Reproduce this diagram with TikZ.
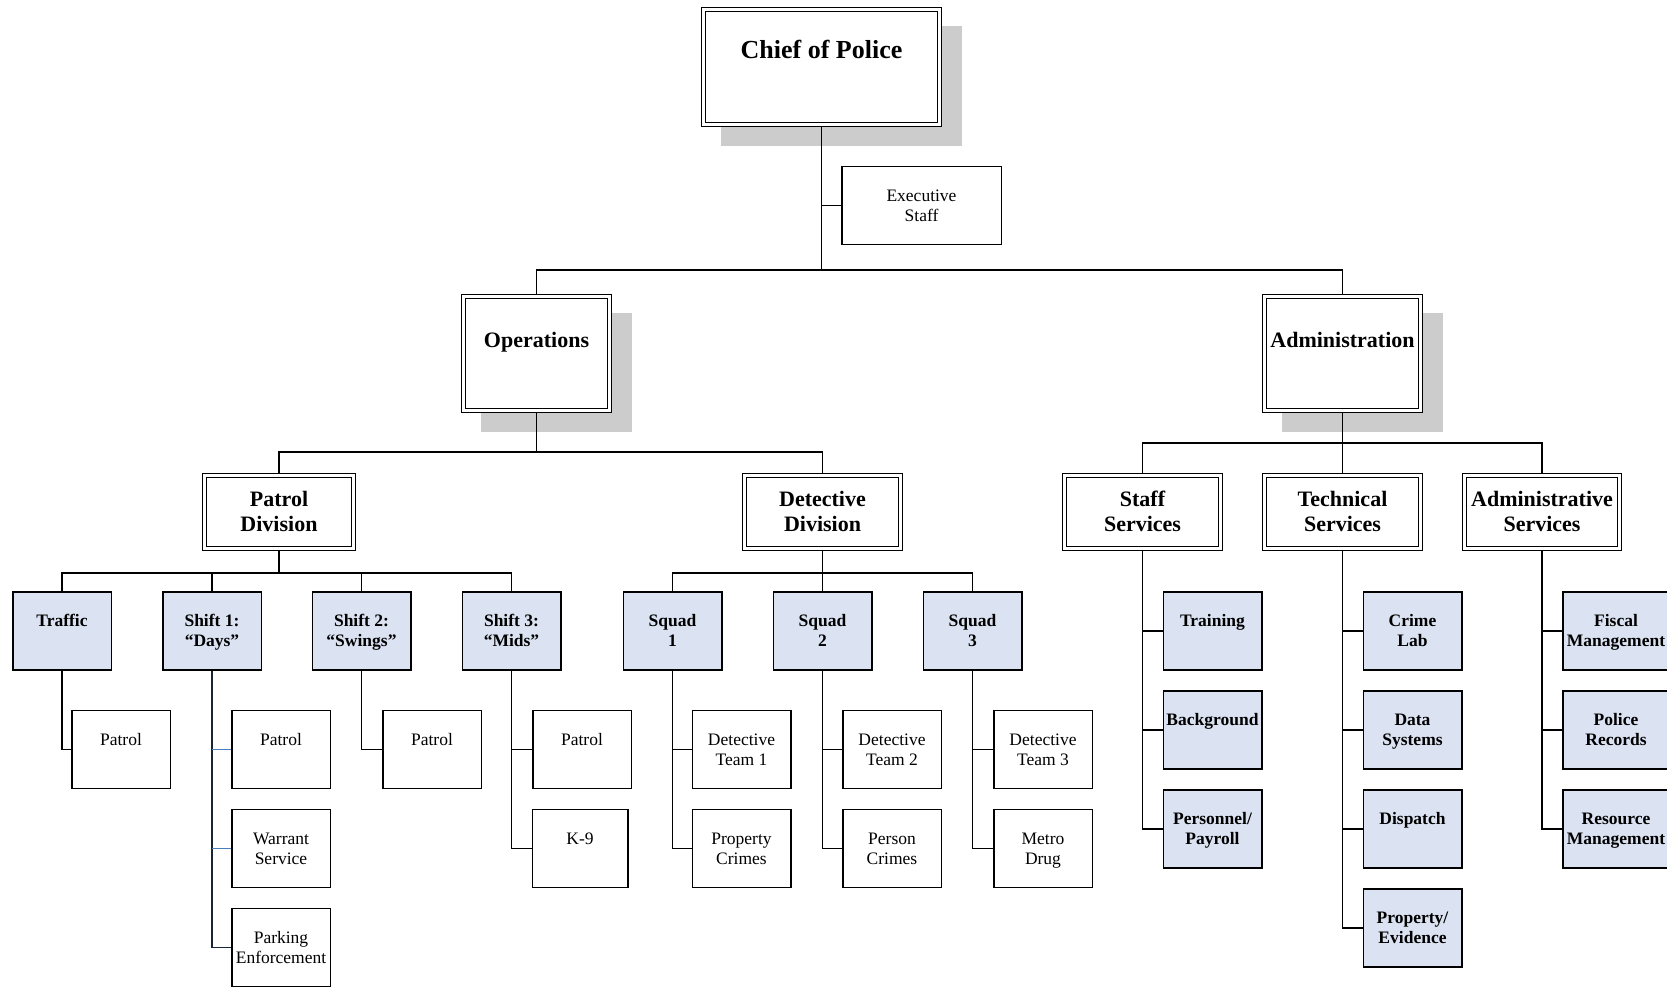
\documentclass[tikz,border=0pt]{standalone}
\usepackage{fontspec}
\setmainfont{Liberation Serif}
\usetikzlibrary{backgrounds,calc}
\definecolor{boxblue}{HTML}{DBE2F1}
\definecolor{shadowgray}{HTML}{CCCCCC}
\definecolor{tickblue}{HTML}{4A7EBB}
\definecolor{navyline}{HTML}{1A2438}
\newcommand\smallfnt{\fontsize{17.5pt}{20pt}\selectfont}
\newcommand\headfnt{\fontsize{22pt}{25pt}\selectfont\bfseries}
\newcommand\chieffnt{\fontsize{26pt}{34pt}\selectfont\bfseries}
\begin{document}
\begin{tikzpicture}[x=1pt,y=-1pt,
  conn/.style={draw=black,line width=1.5pt},
  plainbox/.style={draw=black,line width=1.5pt,fill=white,inner sep=0pt,align=center,
    minimum width=98.5pt,minimum height=78pt,font=\smallfnt,text height=32.3pt,text depth=0.7pt},
  bluebox/.style={plainbox,fill=boxblue,font=\smallfnt\bfseries},
  oneline/.style={text height=12.3pt,text depth=20.7pt},
  headbox/.style={draw=black,line width=1.4pt,double=white,double distance=2.2pt,fill=white,
    outer sep=2.5pt,inner sep=0pt,align=center,font=\headfnt,text height=40.4pt,text depth=0.9pt},
  headone/.style={text height=15.4pt,text depth=26.9pt},
  shadowbox/.style={fill=shadowgray}
]
\useasboundingbox (0,0) rectangle (1667,989);
\clip (0,0) rectangle (1667,989);

% top levels
\node[headbox,font=\chieffnt,text height=18.2pt,text depth=35pt,minimum width=236pt,minimum height=115pt] (chief) at (821.5,67) {Chief of Police};
\node[plainbox,minimum width=159.5pt] (exec) at (921.5,205.5) {Executive\\Staff};
\node[headbox,headone,minimum width=146pt,minimum height=114pt] (ops) at (536.5,353.5) {Operations};
\node[headbox,headone,minimum width=156pt,minimum height=114pt] (admin) at (1342.5,353.5) {Administration};

% divisions
\node[headbox,minimum width=149pt,minimum height=73pt] (patrol) at (279,512) {Patrol\\Division};
\node[headbox,minimum width=156pt,minimum height=73pt] (detdiv) at (822.5,512) {Detective\\Division};
\node[headbox,minimum width=156pt,minimum height=73pt] (staffsvc) at (1142.5,512) {Staff\\Services};
\node[headbox,minimum width=156pt,minimum height=73pt] (techsvc) at (1342.5,512) {Technical\\Services};
\node[headbox,minimum width=155pt,minimum height=73pt] (adminsvc) at (1542,512) {Administrative\\Services};

% patrol units
\node[bluebox,oneline] (traffic) at (62,631) {Traffic};
\node[bluebox] (shiftone) at (212,631) {Shift 1:\\``Days''};
\node[bluebox] (shifttwo) at (361.5,631) {Shift 2:\\``Swings''};
\node[bluebox] (shiftthree) at (511.5,631) {Shift 3:\\``Mids''};

\node[plainbox,oneline] (trpatrol) at (121,749.5) {Patrol};
\node[plainbox,oneline] (sonepatrol) at (281,749.5) {Patrol};
\node[plainbox] (warrant) at (281,848.5) {Warrant\\Service};
\node[plainbox] (parking) at (281,947.5) {Parking\\Enforcement};
\node[plainbox,oneline] (stwopatrol) at (432,749.5) {Patrol};
\node[plainbox,oneline] (sthreepatrol) at (582,749.5) {Patrol};
\node[plainbox,oneline,minimum width=95.5pt] (knine) at (580,848.5) {K-9};

% detective units
\node[bluebox] (squadone) at (672.5,631) {Squad\\1};
\node[bluebox] (squadtwo) at (822.5,631) {Squad\\2};
\node[bluebox] (squadthree) at (972.5,631) {Squad\\3};
\node[plainbox] (dteamone) at (741.5,749.5) {Detective\\Team 1};
\node[plainbox] (propcrimes) at (741.5,848.5) {Property\\Crimes};
\node[plainbox] (dteamtwo) at (892,749.5) {Detective\\Team 2};
\node[plainbox] (personcrimes) at (892,848.5) {Person\\Crimes};
\node[plainbox] (dteamthree) at (1043,749.5) {Detective\\Team 3};
\node[plainbox] (metro) at (1043,848.5) {Metro\\Drug};

% services units
\node[bluebox,oneline] (training) at (1212.5,631) {Training};
\node[bluebox,oneline] (background) at (1212.5,730) {Background};
\node[bluebox] (personnel) at (1212.5,829) {Personnel/\\Payroll};
\node[bluebox] (crimelab) at (1412.5,631) {Crime\\Lab};
\node[bluebox] (datasys) at (1412.5,730) {Data\\Systems};
\node[bluebox,oneline] (dispatch) at (1412.5,829) {Dispatch};
\node[bluebox] (propevid) at (1412.5,928) {Property/\\Evidence};
\node[bluebox,minimum width=106.5pt] (fiscal) at (1616,631) {Fiscal\\Management};
\node[bluebox,minimum width=106.5pt] (records) at (1616,730) {Police\\Records};
\node[bluebox,minimum width=106.5pt] (resource) at (1616,829) {Resource\\Management};

\begin{pgfonlayer}{background}
  % shadows
  \fill[shadowbox] ($(chief.south west)+(20,19)$) rectangle ($(chief.north east)+(20,19)$);
  \fill[shadowbox] ($(ops.south west)+(20,19)$) rectangle ($(ops.north east)+(20,19)$);
  \fill[shadowbox] ($(admin.south west)+(20,19)$) rectangle ($(admin.north east)+(20,19)$);

  % junctions
  \coordinate (ja) at (821.5,270);
  \coordinate (jb) at (536.5,452);
  \coordinate (jc) at (279,573);
  \coordinate (jd) at (822.5,573);
  \coordinate (je) at (1342.5,443);

  \draw[conn] (chief.south) -- (ja);
  \draw[conn] (exec.west) -- (exec.west -| chief.south);
  \draw[conn] (ops.north) |- (ja);
  \draw[conn] (admin.north) |- (ja);

  \draw[conn] (ops.south) -- (jb);
  \draw[conn] (patrol.north) |- (jb);
  \draw[conn] (detdiv.north) |- (jb);

  \draw[conn] (patrol.south) -- (jc);
  \draw[conn] (traffic.north) |- (jc);
  \draw[conn] (shiftone.north) |- (jc);
  \draw[conn] (shifttwo.north) |- (jc);
  \draw[conn] (shiftthree.north) |- (jc);

  \draw[conn] (detdiv.south) -- (jd);
  \draw[conn] (squadone.north) |- (jd);
  \draw[conn] (squadtwo.north) |- (jd);
  \draw[conn] (squadthree.north) |- (jd);

  \draw[conn] (admin.south) -- (je);
  \draw[conn] (staffsvc.north) |- (je);
  \draw[conn] (techsvc.north) |- (je);
  \draw[conn] (adminsvc.north) |- (je);

  % patrol subtrees
  \draw[conn] (traffic.south) |- (trpatrol.west);
  \draw[conn,draw=navyline] (shiftone.south) |- (parking.west);
  \draw[conn,draw=tickblue] (sonepatrol.west) -- (sonepatrol.west -| shiftone.south);
  \draw[conn,draw=tickblue] (warrant.west) -- (warrant.west -| shiftone.south);
  \draw[conn] (shifttwo.south) |- (stwopatrol.west);
  \draw[conn] (shiftthree.south) |- (knine.west);
  \draw[conn] (sthreepatrol.west) -- (sthreepatrol.west -| shiftthree.south);

  % squad subtrees
  \draw[conn] (squadone.south) |- (propcrimes.west);
  \draw[conn] (dteamone.west) -- (dteamone.west -| squadone.south);
  \draw[conn] (squadtwo.south) |- (personcrimes.west);
  \draw[conn] (dteamtwo.west) -- (dteamtwo.west -| squadtwo.south);
  \draw[conn] (squadthree.south) |- (metro.west);
  \draw[conn] (dteamthree.west) -- (dteamthree.west -| squadthree.south);

  % services subtrees
  \draw[conn] (staffsvc.south) |- (personnel.west);
  \draw[conn] (training.west) -- (training.west -| staffsvc.south);
  \draw[conn] (background.west) -- (background.west -| staffsvc.south);
  \draw[conn] (techsvc.south) |- (propevid.west);
  \draw[conn] (crimelab.west) -- (crimelab.west -| techsvc.south);
  \draw[conn] (datasys.west) -- (datasys.west -| techsvc.south);
  \draw[conn] (dispatch.west) -- (dispatch.west -| techsvc.south);
  \draw[conn] (adminsvc.south) |- (resource.west);
  \draw[conn] (fiscal.west) -- (fiscal.west -| adminsvc.south);
  \draw[conn] (records.west) -- (records.west -| adminsvc.south);
\end{pgfonlayer}
\end{tikzpicture}
\end{document}
